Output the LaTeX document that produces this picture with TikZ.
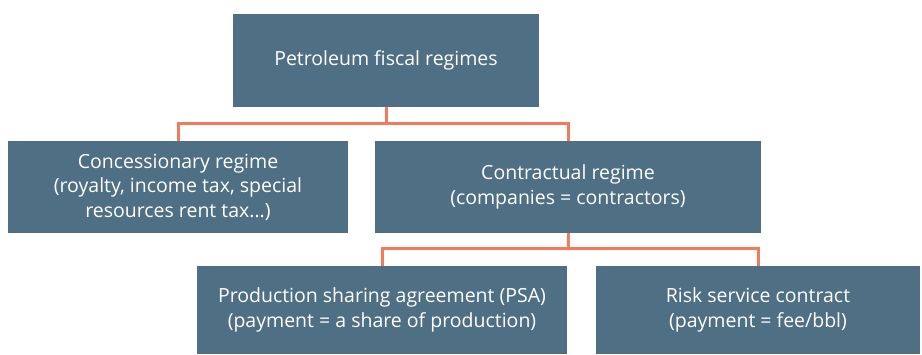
\documentclass[tikz,border=0pt]{standalone}
\usepackage{fontspec}
\setmainfont{Open Sans}
\usepackage{tikz}

\definecolor{boxblue}{HTML}{4F6F84}
\definecolor{linkorange}{HTML}{F47A5A}

\begin{document}
\begin{tikzpicture}[x=1pt,y=1pt,
	regime/.style={fill=boxblue, text=white, align=center, inner sep=0pt,
		font=\fontsize{19.5}{24.5}\selectfont},
	link/.style={draw=linkorange, line width=3pt}]
	\useasboundingbox (0,0) rectangle (922,354);
	
	%boxes
	\node[regime, minimum width=306, minimum height=93] (fiscal) at (386,293.5) {Petroleum fiscal regimes};
	\node[regime, minimum width=340, minimum height=92] (concess) at (178,167) {Concessionary regime\\(royalty, income tax, special\\resources rent tax...)};
	\node[regime, minimum width=386, minimum height=92] (contract) at (568,167) {Contractual regime\\(companies = contractors)};
	\node[regime, minimum width=370, minimum height=88] (psa) at (382,44) {Production sharing agreement (PSA)\\(payment = a share of production)};
	\node[regime, minimum width=324, minimum height=88] (risk) at (758,44) {Risk service contract\\(payment = fee/bbl)};
	
	%junctions
	\coordinate (split1) at (fiscal.south |- 0,230);
	\coordinate (split2) at (contract.south |- 0,105);
	
	%connectors
	\draw[link] (fiscal.south) -- (split1) -| (concess.north);
	\draw[link] (split1) -| (contract.north);
	\draw[link] (contract.south) -- (split2) -| (psa.north);
	\draw[link] (split2) -| (risk.north);
\end{tikzpicture}
\end{document}
